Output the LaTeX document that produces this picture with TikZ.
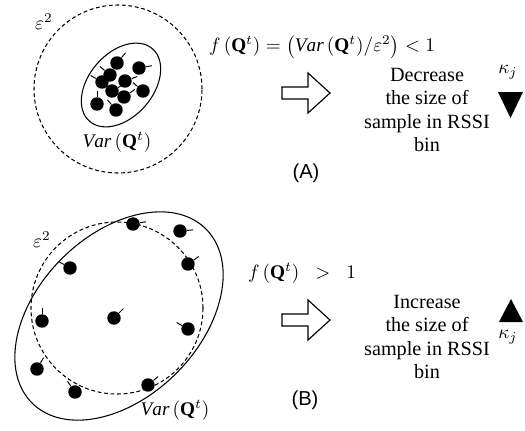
\documentclass[tikz,border=0pt]{standalone}
\usepackage{fontspec}
\setmainfont{Liberation Serif}
\setsansfont{Liberation Sans}
\usetikzlibrary{positioning, calc}
\tikzset{
    sample/.style={
        circle,
        fill=black,
        inner sep=0pt,
        minimum size=7pt,
    },
    pin tick/.style={
        line width=0.5pt,
    },
    bound/.style={
        line width=0.55pt,
        dash pattern=on 2pt off 1.4pt,
    },
    spread/.style={
        line width=0.55pt,
    },
    block arrow/.style={
        line width=0.6pt,
        fill=white,
        line join=miter,
    },
    rule text/.style={
        align=center,
        font=\fontsize{10.5}{12}\selectfont,
    },
    panel label/.style={
        font=\sffamily\fontsize{10.5}{12}\selectfont,
    },
    math label/.style={
        font=\fontsize{10}{12}\selectfont,
        inner sep=1pt,
    },
}
\newcommand{\blockArrow}[2]{%
    \coordinate (#1) at (#2);
    \draw[block arrow, shift={(#2)}] (-24,-6) -- (2,-6) -- (2,-20) -- (24,0)
        -- (2,20) -- (2,6) -- (-24,6) -- cycle;
}
\newcommand{\varQ}{\mathit{Var}\left(\mathbf{Q}^{t}\right)}

\begin{document}
\begin{tikzpicture}[x=0.52pt, y=0.52pt]
\useasboundingbox (0,0) rectangle (525,-430);

% ── PANEL A: SMALL SPREAD ──────────────────────────────────────────

\draw[bound] (118,-89) circle (84);
\node[math label] (epsA) at (44,-22) {$\varepsilon^{2}$};
\draw[spread, rotate around={49:(121,-85)}] (121,-85) ellipse [x radius=48, y radius=32];

\foreach \px/\py/\ang [count=\i] in {117/63/50, 139/68/10, 110/75/140, 102/82/150,
        125/81/20, 112/91/30, 124/97/35, 143/91/140, 97/104/90, 116/110/130} {
    \node[sample] (a\i) at (\px,-\py) {};
    \draw[pin tick] (a\i.\ang) -- ++(\ang:6);
}

\node[math label] (varA) at (117,-142) {$\varQ$};

\node[math label] (ruleA) at (322,-47)
    {$f\left(\mathbf{Q}^{t}\right)=\left(\varQ\!/\varepsilon^{2}\right)<1$};
\blockArrow{arrA}{306,-93}
\node[rule text] (decA) at (427,-110) {Decrease\\the size of\\sample in RSSI\\bin};
\node[math label] (kapA) at (508,-72) {$\kappa_{j}$};
\fill (498,-92) -- (523,-92) -- (510.5,-118) -- cycle;
\node[panel label] (labA) at (306,-173) {(A)};

% ── PANEL B: LARGE SPREAD ──────────────────────────────────────────

\draw[bound] (117,-308) circle (86);
\node[math label] (epsB) at (42,-240) {$\varepsilon^{2}$};
\draw[spread, rotate around={45:(119,-316)}] (119,-316) ellipse [x radius=123, y radius=81];

\foreach \px/\py/\ang [count=\i] in {133/224/10, 180/231/5, 70/268/150, 188/264/35,
        42/321/90, 114/318/45, 188/329/150, 37/369/60, 75/392/125, 148/385/40} {
    \node[sample] (b\i) at (\px,-\py) {};
    \draw[pin tick] (b\i.\ang) -- ++(\ang:6);
}

\node[math label] (varB) at (175,-410) {$\varQ$};

\node[math label] (ruleB) at (302,-273) {$f\left(\mathbf{Q}^{t}\right)\;\;>\;\;1$};
\blockArrow{arrB}{306,-320}
\node[rule text] (incB) at (427,-337) {Increase\\the size of\\sample in RSSI\\bin};
\node[math label] (kapB) at (508,-337) {$\kappa_{j}$};
\fill (499,-322) -- (523,-322) -- (511,-299) -- cycle;
\node[panel label] (labB) at (305,-400) {(B)};

\end{tikzpicture}
\end{document}
